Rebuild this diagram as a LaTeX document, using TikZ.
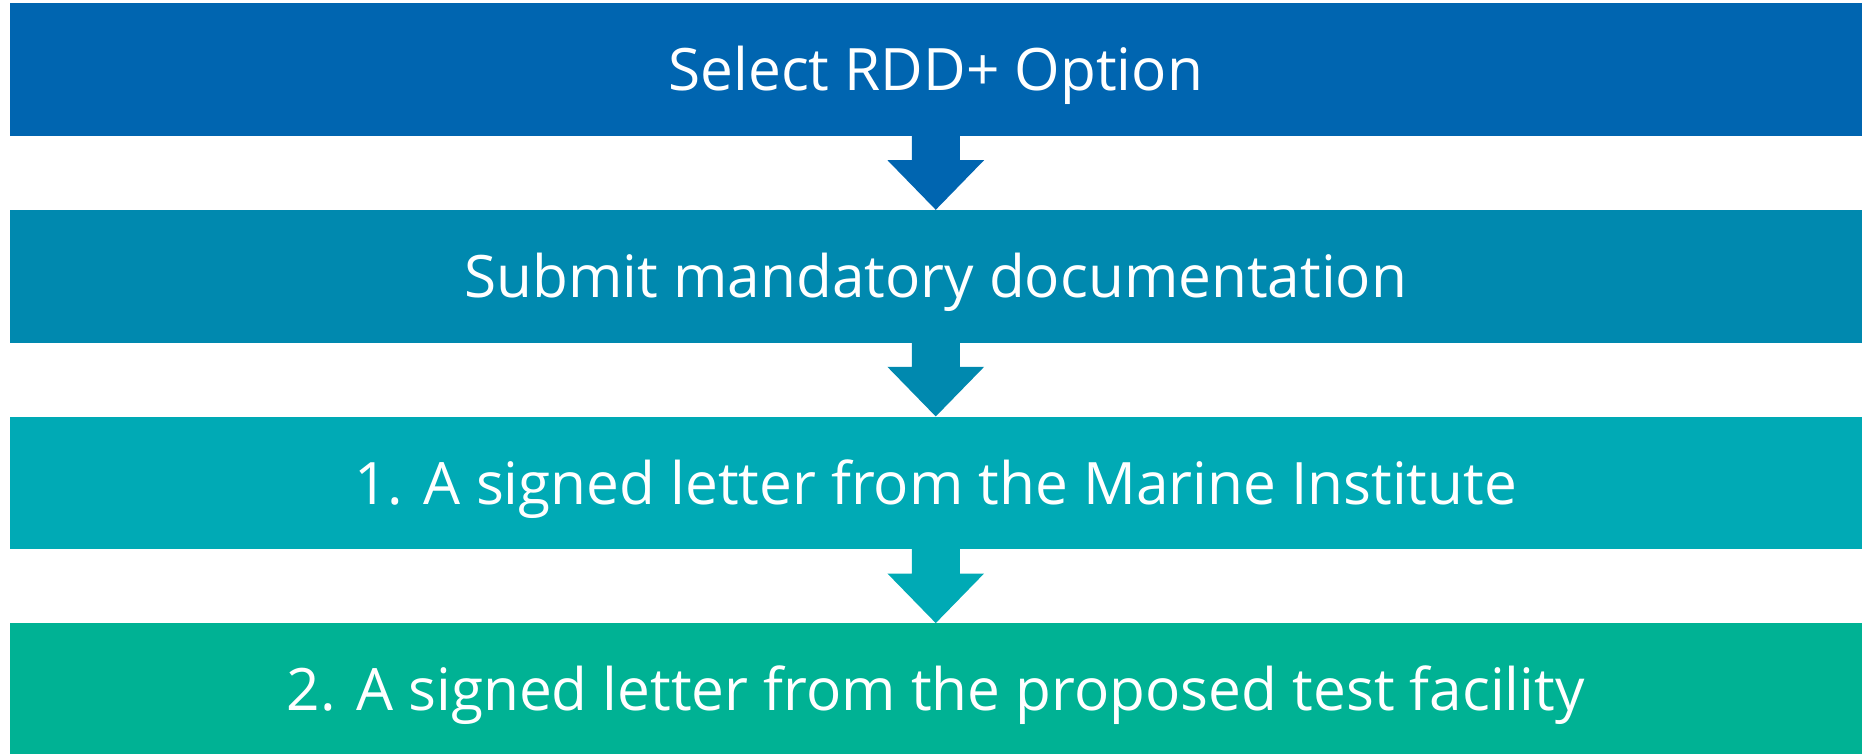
\documentclass[tikz,border=0pt]{standalone}
\usepackage{fontspec}
\setmainfont{Open Sans}
\usetikzlibrary{calc}
\definecolor{cA}{HTML}{0065B0}
\definecolor{cB}{HTML}{0089AF}
\definecolor{cC}{HTML}{00AAB5}
\definecolor{cD}{HTML}{00B294}
\tikzset{
  stepbox/.style={rectangle, inner sep=0pt, minimum width=1852.5pt, minimum height=132.7pt,
    text height=42pt, text depth=0pt,
    text=white, font=\fontsize{58.5}{68}\selectfont},
}
\newcommand\stepArrow[3]{%
  \fill[#1] ($(#2.south)+(-24,0.5)$) -- ($(#2.south)+(24,0.5)$) -- ($(#2.south)+(24,-24)$)
    -- ($(#2.south)+(48.3,-24)$) -- (#3.north) -- ($(#2.south)+(-48.3,-24)$)
    -- ($(#2.south)+(-24,-24)$) -- cycle;}
\begin{document}
\begin{tikzpicture}[x=1pt,y=1pt]
\useasboundingbox (0,0) rectangle (1862,753);
\node[stepbox, fill=cA] (b1) at (935.75,683.35) {Select RDD+ Option};
\node[stepbox, fill=cB] (b2) at (935.75,476.65) {Submit mandatory documentation};
\node[stepbox, fill=cC] (b3) at (935.75,270) {1. A signed letter from the Marine Institute};
\node[stepbox, fill=cD] (b4) at (935.75,63.35) {2. A signed letter from the proposed test facility};
\stepArrow{cA}{b1}{b2}
\stepArrow{cB}{b2}{b3}
\stepArrow{cC}{b3}{b4}
\end{tikzpicture}
\end{document}
